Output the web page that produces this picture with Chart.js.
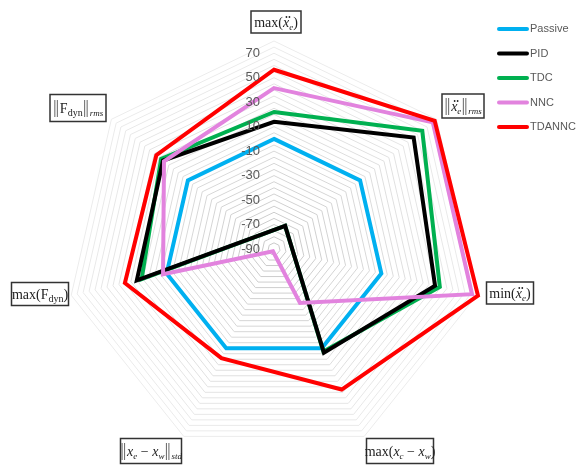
<!DOCTYPE html>
<html>
<head>
<meta charset="utf-8">
<script src="https://cdn.jsdelivr.net/npm/chart.js@4"></script>
<style>
  html, body { margin: 0; padding: 0; background: #fff; }
  #wrap { width: 579px; height: 465px; position: relative; }
</style>
</head>
<body>
<div id="wrap"><canvas id="radarChart" width="579" height="465"></canvas></div>
<script>
// categories (axis order, clockwise from top)
var categories = ['max(ẍe)', '‖ẍe‖rms', 'min(ẍe)', 'max(xc−xw)', '‖xe−xw‖std', 'max(Fdyn)', '‖Fdyn‖rms'];
var seriesNames = ['Passive', 'PID', 'TDC', 'NNC', 'TDANNC'];
var passive = [0, 0, 0, 0, 0, 0, 0];
var pid = [14, 56, 45, 4, -111, 25, 26];
var tdc = [22, 65, 49, 3, -111, 21, 28];
var nnc = [41.5, 76, 76, -41, -88, 3, 25];
var tdannc = [56.5, 78, 81, 37.5, 9, 35, 33];
var tickLabels = [70, 50, 30, 10, -10, -30, -50, -70, -90];
var colors = ['#00B0F0', '#000000', '#00B050', '#E283DE', '#FF0000'];
// drawing order (lower = on top)
var drawOrder = [5, 3, 4, 2, 1];

var serif = '"Liberation Serif", "DejaVu Serif", serif';

// label pieces: r = roman, i = italic, s = italic subscript, sr = roman subscript, dd = italic x with two dots, n = norm bars
var labelParts = [
    [['max(', 'r'], ['x', 'dd'], ['e', 's'], [')', 'r']],
    [['', 'n'], ['x', 'dd'], ['e', 's'], ['', 'n'], ['rms', 's']],
    [['min(', 'r'], ['x', 'dd'], ['e', 's'], [')', 'r']],
    [['max(', 'r'], ['x', 'i'], ['c', 's'], [' − ', 'r'], ['x', 'i'], ['w', 's'], [')', 'r']],
    [['', 'n'], ['x', 'i'], ['e', 's'], [' − ', 'r'], ['x', 'i'], ['w', 's'], ['', 'n'], ['std', 's']],
    [['max(F', 'r'], ['dyn', 'sr'], [')', 'r']],
    [['', 'n'], ['F', 'r'], ['dyn', 'sr'], ['', 'n'], ['rms', 's']]
];
// text boxes: centre x, centre y, width, height
var labelBoxes = [
    [276, 22, 50, 22], [463, 106, 42, 24], [510, 293, 47, 22], [400, 451, 67, 25],
    [151, 451, 61, 25], [40, 294, 57, 23], [78, 108, 56, 27]
];

function fontFor(style) {
    if (style == 'r') return '14px ' + serif;
    if (style == 'i' || style == 'dd') return 'italic 14px ' + serif;
    if (style == 's') return 'italic 9px ' + serif;
    return '10px ' + serif;
}

function partWidth(ctx, p) {
    if (p[1] == 'n') return 7;
    ctx.font = fontFor(p[1]);
    return ctx.measureText(p[0]).width;
}

function drawMath(ctx, parts, cx, cy) {
    var total = 0;
    parts.forEach(function (p) { total += partWidth(ctx, p); });
    var x = cx - total / 2;
    var base = cy + 5;
    ctx.textAlign = 'left';
    ctx.textBaseline = 'alphabetic';
    parts.forEach(function (p) {
        var w = partWidth(ctx, p);
        ctx.fillStyle = '#222';
        if (p[1] == 'n') {
            ctx.strokeStyle = '#666';
            ctx.lineWidth = 1;
            ctx.beginPath();
            ctx.moveTo(x + 2, base - 13); ctx.lineTo(x + 2, base + 4);
            ctx.moveTo(x + 4.5, base - 13); ctx.lineTo(x + 4.5, base + 4);
            ctx.stroke();
        } else {
            ctx.font = fontFor(p[1]);
            var dy = (p[1] == 's' || p[1] == 'sr') ? 3 : 0;
            ctx.fillText(p[0], x, base + dy);
            if (p[1] == 'dd') {
                ctx.beginPath();
                ctx.arc(x + 3.5, base - 10, 0.9, 0, Math.PI * 2);
                ctx.arc(x + 6.5, base - 10, 0.9, 0, Math.PI * 2);
                ctx.fill();
            }
        }
        x += w;
    });
}

var overlay = {
    id: 'overlay',
    afterDraw: function (chart) {
        var ctx = chart.ctx;
        var scale = chart.scales.r;
        ctx.save();
        // tick labels left of the top axis
        ctx.font = '13px "Liberation Sans", sans-serif';
        ctx.fillStyle = '#595959';
        ctx.textAlign = 'right';
        ctx.textBaseline = 'middle';
        tickLabels.forEach(function (v) {
            var d = scale.getDistanceFromCenterForValue(v);
            ctx.fillText(String(v), scale.xCenter - 14, scale.yCenter - d);
        });
        // boxed axis labels
        labelBoxes.forEach(function (b, i) {
            ctx.fillStyle = '#fff';
            ctx.fillRect(b[0] - b[2] / 2, b[1] - b[3] / 2, b[2], b[3]);
            ctx.strokeStyle = '#333';
            ctx.lineWidth = 1.5;
            ctx.strokeRect(b[0] - b[2] / 2, b[1] - b[3] / 2, b[2], b[3]);
            drawMath(ctx, labelParts[i], b[0], b[1]);
        });
        // legend
        seriesNames.forEach(function (name, i) {
            var y = 29 + i * 24.5;
            ctx.strokeStyle = colors[i];
            ctx.lineWidth = 4;
            ctx.lineCap = 'round';
            ctx.beginPath();
            ctx.moveTo(499, y); ctx.lineTo(527, y);
            ctx.stroke();
            ctx.fillStyle = '#595959';
            ctx.font = '11px "Liberation Sans", sans-serif';
            ctx.textAlign = 'left';
            ctx.textBaseline = 'middle';
            ctx.fillText(name, 530, y);
        });
        ctx.restore();
    }
};

function makeSet(i, data) {
    return {
        label: seriesNames[i],
        data: data,
        borderColor: colors[i],
        backgroundColor: colors[i],
        borderWidth: 4,
        borderJoinStyle: 'miter',
        pointRadius: 0,
        fill: false,
        tension: 0,
        clip: false,
        order: drawOrder[i]
    };
}

document.addEventListener('DOMContentLoaded', function () {
    var ctxRadar = document.getElementById('radarChart').getContext('2d');
    new Chart(ctxRadar, {
        type: 'radar',
        data: {
            labels: categories,
            datasets: [makeSet(0, passive), makeSet(1, pid), makeSet(2, tdc), makeSet(3, nnc), makeSet(4, tdannc)]
        },
        options: {
            responsive: false,
            animation: false,
            layout: {padding: {top: 41, bottom: 8, left: 66, right: 97}},
            plugins: {legend: {display: false}, tooltip: {enabled: false}},
            scales: {
                r: {
                    min: -90,
                    max: 80,
                    angleLines: {display: false},
                    pointLabels: {display: false},
                    ticks: {display: false, stepSize: 5},
                    grid: {
                        lineWidth: 1,
                        color: function (c) {
                            var t = (c.tick.value + 90) / 170;
                            var g = Math.round(200 + t * 36);
                            return 'rgb(' + g + ',' + g + ',' + g + ')';
                        }
                    }
                }
            }
        },
        plugins: [overlay]
    });
});
</script>
</body>
</html>
